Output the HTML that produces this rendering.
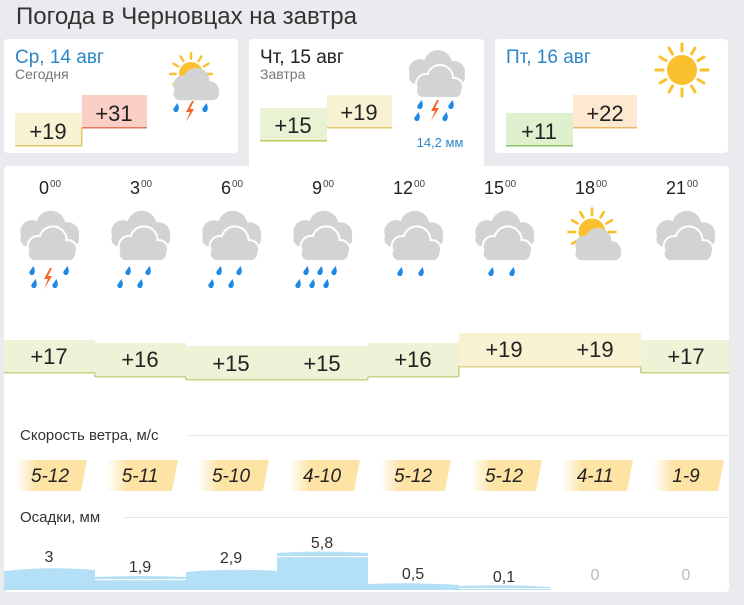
<!DOCTYPE html>
<html><head><meta charset="utf-8"><style>
html,body{margin:0;padding:0;background:#e9ebee;}
body{width:744px;height:600px;overflow:hidden;font-family:"Liberation Sans",sans-serif;}
</style></head><body>
<svg width="744" height="600" viewBox="0 0 744 600" xmlns="http://www.w3.org/2000/svg" font-family="Liberation Sans, sans-serif">
<defs>
<g id="c1">
 <circle cx="22" cy="20" r="10" fill="#d3d3d3"/>
 <circle cx="36" cy="16" r="14" fill="#d3d3d3"/>
 <circle cx="50" cy="26" r="10" fill="#d3d3d3"/>
 <rect x="12" y="22" width="48" height="14" rx="7" fill="#d3d3d3"/>
</g>
<g id="c2">
 <g transform="translate(2,-10)">
  <circle cx="16" cy="24" r="11" fill="#d3d3d3"/>
  <circle cx="34" cy="18" r="14" fill="#d3d3d3"/>
  <circle cx="50" cy="26" r="11" fill="#d3d3d3"/>
  <rect x="5" y="24" width="56" height="14" rx="7" fill="#d3d3d3"/>
 </g>
 <g transform="translate(10,6)" stroke="#fff" stroke-width="2">
  <circle cx="14" cy="22" r="10" fill="#d3d3d3"/>
  <circle cx="28" cy="16" r="13" fill="#d3d3d3"/>
  <circle cx="42" cy="25" r="9" fill="#d3d3d3"/>
  <rect x="4" y="22" width="46" height="14" rx="7" fill="#d3d3d3"/>
 </g>
 <g transform="translate(10,6)">
  <circle cx="14" cy="22" r="9" fill="#d3d3d3"/>
  <circle cx="28" cy="16" r="12" fill="#d3d3d3"/>
  <circle cx="42" cy="25" r="8" fill="#d3d3d3"/>
  <rect x="5" y="23" width="44" height="12" rx="6" fill="#d3d3d3"/>
 </g>
</g>
<path id="d" d="M1.5,-5 Q3.5,0 2.5,1.5 A2.6,2.6 0 1 1 -2.5,0.5 Z" fill="#1e88e5"/>
<path id="bolt" d="M3,-10 L-3,1 L1,1 L-3,11 L5,-2 L1,-2 L5,-10 Z" fill="#f26522"/>
<g id="rays" stroke="#fbc02d" stroke-width="3" stroke-linecap="round">
 <line x1="0" y1="-26" x2="0" y2="-19"/>
 <line x1="13" y1="-22" x2="9.5" y2="-16"/>
 <line x1="-13" y1="-22" x2="-9.5" y2="-16"/>
 <line x1="22" y1="-13" x2="16" y2="-9.5"/>
 <line x1="-22" y1="-13" x2="-16" y2="-9.5"/>
 <line x1="26" y1="0" x2="19" y2="0"/>
 <line x1="-26" y1="0" x2="-19" y2="0"/>
 <line x1="22" y1="13" x2="16" y2="9.5"/>
 <line x1="-22" y1="13" x2="-16" y2="9.5"/>
 <line x1="13" y1="22" x2="9.5" y2="16"/>
 <line x1="-13" y1="22" x2="-9.5" y2="16"/>
 <line x1="0" y1="26" x2="0" y2="19"/>
</g>
<linearGradient id="wg" x1="0" x2="1" y1="0" y2="0">
 <stop offset="0" stop-color="#fde3a4" stop-opacity="0"/>
 <stop offset="0.3" stop-color="#fde3a4"/>
 <stop offset="1" stop-color="#fde3a4"/>
</linearGradient>
<g id="wb"><path d="M0,0 H71 L65,31 H0 Z" fill="url(#wg)"/></g>
</defs>

<text x="16" y="24" font-size="24" fill="#333" textLength="341" lengthAdjust="spacingAndGlyphs">Погода в Черновцах на завтра</text>

<!-- top cards -->
<rect x="4" y="39" width="234" height="114" rx="4" fill="#fff"/>
<rect x="249" y="39" width="235" height="130" rx="4" fill="#fff"/>
<rect x="495" y="39" width="233" height="114" rx="4" fill="#fff"/>

<text x="15" y="63" font-size="19" fill="#2a86c8">Ср, 14 авг</text>
<text x="15" y="79" font-size="14" fill="#777">Сегодня</text>
<rect x="15" y="113" width="67" height="33" fill="#f8f2d2"/><rect x="15" y="145" width="67" height="1.5" fill="#e2c46a"/>
<rect x="82" y="95" width="65" height="33" fill="#fad0c6"/><rect x="82" y="127" width="65" height="1.5" fill="#e4765e"/>
<rect x="81" y="128" width="1.5" height="18" fill="#e2c46a"/>
<text x="48" y="139" font-size="22" fill="#222" text-anchor="middle">+19</text>
<text x="114" y="121" font-size="22" fill="#222" text-anchor="middle">+31</text>
<g transform="translate(191,74) scale(0.8)"><use href="#rays"/><circle r="15" fill="#fbc02d"/></g>
<g transform="translate(162,66) scale(0.95)"><use href="#c1"/></g>
<use href="#d" x="176" y="108"/><use href="#d" x="205" y="108"/><use href="#bolt" x="189" y="111"/>

<text x="260" y="63" font-size="19" fill="#222">Чт, 15 авг</text>
<text x="260" y="79" font-size="14" fill="#777">Завтра</text>
<rect x="260" y="108" width="67" height="33" fill="#eaf2d4"/><rect x="260" y="140" width="67" height="1.5" fill="#b9cc55"/>
<rect x="327" y="95" width="65" height="33" fill="#f8f2d2"/><rect x="327" y="127" width="65" height="1.5" fill="#e2c46a"/>
<text x="293" y="133" font-size="22" fill="#222" text-anchor="middle">+15</text>
<text x="359" y="120" font-size="22" fill="#222" text-anchor="middle">+19</text>
<g transform="translate(402,56)"><use href="#c2"/></g>
<use href="#d" x="420" y="105"/><use href="#d" x="451" y="105"/><use href="#d" x="417" y="117"/><use href="#d" x="445" y="117"/><use href="#bolt" x="434" y="110"/>
<text x="440" y="147" font-size="13" fill="#2a86c8" text-anchor="middle">14,2 мм</text>

<text x="506" y="63" font-size="19" fill="#2a86c8">Пт, 16 авг</text>
<rect x="506" y="113" width="67" height="33" fill="#dff0cf"/><rect x="506" y="145" width="67" height="1.5" fill="#8cc063"/>
<rect x="573" y="95" width="64" height="33" fill="#fce9d0"/><rect x="573" y="127" width="64" height="1.5" fill="#e9b86a"/>
<text x="539" y="139" font-size="22" fill="#222" text-anchor="middle">+11</text>
<text x="605" y="121" font-size="22" fill="#222" text-anchor="middle">+22</text>
<g transform="translate(682,70)"><use href="#rays"/><circle r="15" fill="#fbc02d"/></g>

<!-- main card -->
<rect x="4" y="166" width="725" height="426" rx="4" fill="#fff"/>
<rect x="249" y="160" width="235" height="10" fill="#fff"/>

<g font-size="18" fill="#222" text-anchor="end">
 <text x="49" y="194">0</text><text x="140" y="194">3</text><text x="231" y="194">6</text><text x="322" y="194">9</text>
 <text x="413" y="194">12</text><text x="504" y="194">15</text><text x="595" y="194">18</text><text x="686" y="194">21</text>
</g>
<g font-size="10" fill="#444">
 <text x="50" y="187">00</text><text x="141" y="187">00</text><text x="232" y="187">00</text><text x="323" y="187">00</text>
 <text x="414" y="187">00</text><text x="505" y="187">00</text><text x="596" y="187">00</text><text x="687" y="187">00</text>
</g>

<!-- hour icons -->
<g transform="translate(13,217) scale(1.05)"><use href="#c2"/></g>
<use href="#d" x="32" y="271"/><use href="#d" x="66" y="271"/><use href="#d" x="34" y="284"/><use href="#d" x="55" y="284"/><use href="#bolt" x="47" y="278"/>
<g transform="translate(104,217) scale(1.05)"><use href="#c2"/></g>
<use href="#d" x="128" y="271"/><use href="#d" x="148" y="271"/><use href="#d" x="120" y="284"/><use href="#d" x="140" y="284"/>
<g transform="translate(195,217) scale(1.05)"><use href="#c2"/></g>
<use href="#d" x="219" y="271"/><use href="#d" x="239" y="271"/><use href="#d" x="211" y="284"/><use href="#d" x="231" y="284"/>
<g transform="translate(286,217) scale(1.05)"><use href="#c2"/></g>
<use href="#d" x="306" y="271"/><use href="#d" x="320" y="271"/><use href="#d" x="334" y="271"/><use href="#d" x="298" y="284"/><use href="#d" x="312" y="284"/><use href="#d" x="326" y="284"/>
<g transform="translate(377,217) scale(1.05)"><use href="#c2"/></g>
<use href="#d" x="400" y="272"/><use href="#d" x="421" y="272"/>
<g transform="translate(468,217) scale(1.05)"><use href="#c2"/></g>
<use href="#d" x="491" y="272"/><use href="#d" x="512" y="272"/>
<g transform="translate(592,232) scale(0.9)"><use href="#rays"/><circle r="15" fill="#fbc02d"/></g>
<g transform="translate(564,226) scale(0.95)"><use href="#c1"/></g>
<g transform="translate(649,217) scale(1.05)"><use href="#c2"/></g>

<!-- temp bars -->
<g>
 <rect x="4" y="340" width="91" height="33" fill="#eef2d6"/>
 <rect x="95" y="343" width="91" height="34" fill="#eef2d6"/>
 <rect x="186" y="346" width="182" height="34" fill="#eef2d6"/>
 <rect x="368" y="343" width="91" height="34" fill="#eef2d6"/>
 <rect x="459" y="333" width="182" height="34" fill="#f8f2d2"/>
 <rect x="641" y="340" width="88" height="33" fill="#eef2d6"/>
 <g fill="#c5d38a">
  <rect x="4" y="372" width="91" height="1.5"/><rect x="95" y="376" width="91" height="1.5"/>
  <rect x="186" y="379" width="182" height="1.5"/><rect x="368" y="376" width="91" height="1.5"/>
  <rect x="641" y="372" width="88" height="1.5"/>
  <rect x="94" y="373" width="1.5" height="4"/><rect x="185" y="377" width="1.5" height="3"/><rect x="367" y="377" width="1.5" height="3"/>
  <rect x="458" y="366" width="1.5" height="11"/><rect x="640" y="366" width="1.5" height="7"/>
 </g>
 <rect x="459" y="366" width="182" height="1.5" fill="#e2d38a"/>
 <g font-size="22" fill="#222" text-anchor="middle">
  <text x="49" y="364">+17</text><text x="140" y="367">+16</text><text x="231" y="371">+15</text><text x="322" y="371">+15</text>
  <text x="413" y="367">+16</text><text x="504" y="357">+19</text><text x="595" y="357">+19</text><text x="686" y="364">+17</text>
 </g>
</g>

<!-- wind -->
<text x="20" y="440" font-size="15" fill="#333">Скорость ветра, м/с</text>
<rect x="188" y="435" width="541" height="1" fill="#e8e8e8"/>
<use href="#wb" x="16" y="460"/><use href="#wb" x="107" y="460"/><use href="#wb" x="198" y="460"/><use href="#wb" x="289" y="460"/>
<use href="#wb" x="380" y="460"/><use href="#wb" x="471" y="460"/><use href="#wb" x="562" y="460"/><use href="#wb" x="653" y="460"/>
<g font-size="19" font-style="italic" fill="#222" text-anchor="middle">
 <text x="50" y="482">5-12</text><text x="140" y="482">5-11</text><text x="231" y="482">5-10</text><text x="322" y="482">4-10</text>
 <text x="413" y="482">5-12</text><text x="504" y="482">5-12</text><text x="595" y="482">4-11</text><text x="686" y="482">1-9</text>
</g>

<!-- precip -->
<text x="20" y="522" font-size="15" fill="#333">Осадки, мм</text>
<rect x="124" y="517" width="605" height="1" fill="#e8e8e8"/>
<g fill="#b3dff7">
 <path d="M4,571 Q50,566 95,570 V590 H4 Z"/>
 <path d="M95,577 Q140,575 186,577 V590 H95 Z"/>
 <path d="M186,572 Q231,568 277,571 V590 H186 Z"/>
 <path d="M277,553 Q322,550 368,553 V590 H277 Z"/>
 <path d="M368,584 Q413,582 459,585 V590 H368 Z"/>
 <path d="M459,586 Q504,584 550,587 V590 H459 Z"/>
</g>
<g fill="#fff"><rect x="95" y="579" width="91" height="1.2"/><rect x="277" y="556" width="91" height="1.2"/><rect x="459" y="588" width="91" height="1"/></g>
<g font-size="16" fill="#333" text-anchor="middle">
 <text x="49" y="562">3</text><text x="140" y="572">1,9</text><text x="231" y="563">2,9</text><text x="322" y="548">5,8</text>
 <text x="413" y="579">0,5</text><text x="504" y="582">0,1</text>
 <text x="595" y="580" fill="#bbb">0</text><text x="686" y="580" fill="#bbb">0</text>
</g>
</svg>
</body></html>
